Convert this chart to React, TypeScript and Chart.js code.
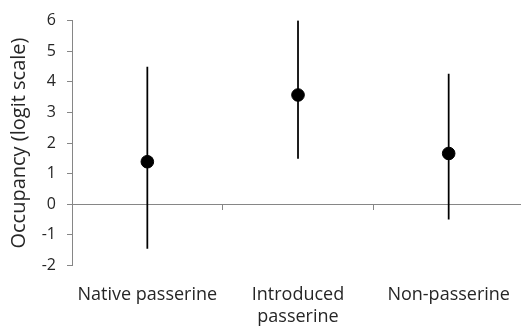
import React, { useEffect, useRef } from "react";
import { Chart, registerables } from "chart.js";

Chart.register(...registerables);

const categories = ["Native passerine", "Introduced passerine", "Non-passerine"];
const tickLabels = [["Native passerine"], ["Introduced", "passerine"], ["Non-passerine"]];
const categoryPositions = [0.5, 1.5, 2.5];
const estimates = [1.39, 3.57, 1.66];
const lowerBounds = [-1.44, 1.5, -0.49];
const upperBounds = [4.48, 6.0, 4.25];
const yTicks = [-2, -1, 0, 1, 2, 3, 4, 5, 6];
const dividerTicks = [1, 2];

const FONT = "'Open Sans', sans-serif";
const AXIS_GRAY = "#868686";
const TEXT = "#262626";

export default function App() {
  const ref = useRef<HTMLCanvasElement | null>(null);

  useEffect(() => {
    if (!ref.current) return;
    const xMin = 0;
    const xMax = 2.98;
    const chart = new Chart(ref.current, {
      type: "scatter",
      data: {
        datasets: [
          {
            type: "scatter",
            label: "Estimate",
            data: categoryPositions.map((x, i) => ({ x, y: estimates[i] })),
            backgroundColor: "#000",
            borderColor: "#000",
            pointRadius: 6.3,
            pointHoverRadius: 6.3,
            order: 0,
          },
          {
            type: "bar",
            label: "Interval",
            data: categoryPositions.map((x, i) => ({ x, y: [lowerBounds[i], upperBounds[i]] })) as any,
            backgroundColor: "#000",
            borderWidth: 0,
            barThickness: 1.1,
            order: 1,
          } as any,
        ],
      },
      options: {
        animation: false,
        responsive: false,
        events: [],
        layout: { autoPadding: false, padding: { top: 19.7, left: 0, right: 0, bottom: 0 } },
        plugins: { legend: { display: false }, tooltip: { enabled: false } },
        scales: {
          x: {
            type: "linear",
            position: "bottom",
            offset: false,
            min: xMin,
            max: xMax,
            grid: { display: false, offset: false },
            border: { display: false },
            afterBuildTicks: (s: any) => {
              s.ticks = categoryPositions.map((v) => ({ value: v }));
            },
            afterFit: (s: any) => {
              s.height = 63.5;
              s.paddingLeft = 0;
              s.paddingRight = 0;
            },
            ticks: {
              autoSkip: false,
              maxRotation: 0,
              padding: 10,
              color: TEXT,
              font: { family: FONT, size: 18, lineHeight: 1.25 },
              callback: (value: any) => {
                const idx = categoryPositions.indexOf(Number(value));
                return idx >= 0 ? tickLabels[idx] : "";
              },
            },
          },
          x2: {
            type: "linear",
            axis: "x",
            position: { y: 0 } as any,
            offset: false,
            min: xMin,
            max: xMax,
            afterBuildTicks: (s: any) => {
              s.ticks = dividerTicks.map((v) => ({ value: v }));
            },
            afterFit: (s: any) => {
              s.paddingLeft = 0;
              s.paddingRight = 0;
            },
            grid: { drawOnChartArea: false, drawTicks: true, tickLength: 5, color: AXIS_GRAY, offset: false },
            border: { display: true, color: AXIS_GRAY, width: 1 },
            ticks: { display: false },
          } as any,
          y: {
            type: "linear",
            position: "left",
            min: -2,
            max: 6,
            afterBuildTicks: (s: any) => {
              s.ticks = yTicks.map((v) => ({ value: v }));
            },
            afterFit: (s: any) => {
              s.width = 72;
            },
            grid: { drawOnChartArea: false, drawTicks: true, tickLength: 5, color: AXIS_GRAY },
            border: { display: true, color: AXIS_GRAY, width: 1 },
            ticks: {
              padding: 11,
              color: TEXT,
              font: { family: FONT, size: 16 },
            },
            title: {
              display: true,
              text: "Occupancy (logit scale)",
              color: TEXT,
              font: { family: FONT, size: 20 },
              padding: { top: 7, bottom: 0 },
            },
          },
        },
      },
    });
    return () => chart.destroy();
  }, []);

  return (
    <div style={{ position: "absolute", left: 0, top: 0, width: 521, height: 329, background: "#fff" }}>
      <canvas ref={ref} width={521} height={329} style={{ display: "block" }} aria-label={categories.join(", ")} />
    </div>
  );
}
